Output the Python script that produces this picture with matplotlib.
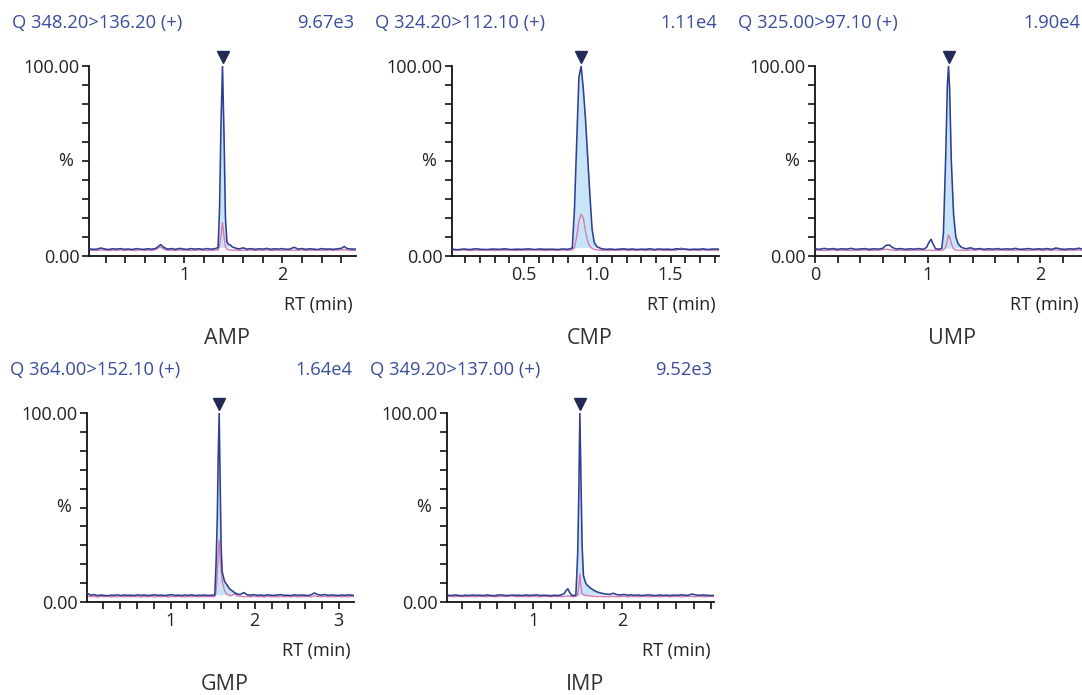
import numpy as np
import matplotlib
matplotlib.use("Agg")
import matplotlib.pyplot as plt
from matplotlib.ticker import MultipleLocator

plt.rcParams['font.family'] = ['Open Sans', 'DejaVu Sans']

# compound info
COMPOUNDS = ['AMP', 'CMP', 'UMP', 'GMP', 'IMP']
TRANSITIONS = ['Q 348.20>136.20 (+)', 'Q 324.20>112.10 (+)', 'Q 325.00>97.10 (+)',
               'Q 364.00>152.10 (+)', 'Q 349.20>137.00 (+)']
MAX_INTENSITY = ['9.67e3', '1.11e4', '1.90e4', '1.64e4', '9.52e3']
XLIMS = [(0.03, 2.75), (0.01, 1.83), (0.0, 2.37), (0.006, 3.18), (0.034, 3.03)]
XMAJOR = [[1, 2], [0.5, 1.0, 1.5], [0, 1, 2], [1, 2, 3], [1, 2]]
XLABELS = [['1', '2'], ['0.5', '1.0', '1.5'], ['0', '1', '2'], ['1', '2', '3'], ['1', '2']]
XMINOR = [0.2, 0.1, 0.2, 0.2, 0.2]
APEX_RT = [1.39, 0.89, 1.185, 1.577, 1.525]
PEAK_START = [1.345, 0.83, 1.125, 1.525, 1.48]
PEAK_END = [1.49, 1.00, 1.30, 1.79, 1.82]

# chromatogram traces (% of max), quant = main transition, qual = qualifier
AMP_RT = [0.03, 0.07, 0.11, 0.15, 0.19, 0.23, 0.27, 0.31, 0.35, 0.39,
          0.43, 0.47, 0.51, 0.55, 0.59, 0.63, 0.67, 0.71, 0.74, 0.76,
          0.79, 0.83, 0.87, 0.91, 0.95, 0.99, 1.03, 1.07, 1.11, 1.15,
          1.19, 1.23, 1.27, 1.31, 1.345, 1.36, 1.375, 1.39, 1.405, 1.42,
          1.435, 1.45, 1.47, 1.49, 1.52, 1.56, 1.60, 1.64, 1.68, 1.72,
          1.76, 1.80, 1.84, 1.88, 1.92, 1.96, 2.00, 2.04, 2.08, 2.12,
          2.16, 2.20, 2.24, 2.28, 2.32, 2.36, 2.40, 2.44, 2.48, 2.52,
          2.56, 2.60, 2.63, 2.66, 2.70, 2.75]
AMP_QUANT = [3.9, 3.5, 3.6, 4.2, 3.7, 3.4, 3.8, 3.6, 3.9, 3.5,
             3.7, 3.4, 3.9, 3.6, 3.5, 3.8, 3.6, 4.0, 5.2, 6.0,
             4.6, 3.6, 3.9, 3.5, 4.0, 3.7, 3.5, 3.9, 3.6, 3.8,
             3.5, 3.9, 3.6, 3.8, 4.4, 25.0, 70.0, 100.0, 65.0, 20.0,
             7.5, 6.2, 5.8, 4.8, 4.2, 3.7, 4.3, 3.6, 3.9, 3.5,
             3.8, 3.6, 4.0, 3.5, 3.8, 3.6, 3.9, 3.5, 3.7, 4.6,
             3.6, 3.9, 3.5, 3.8, 3.6, 3.4, 3.9, 3.6, 3.7, 3.5,
             3.8, 4.0, 5.0, 3.9, 3.7, 3.6]
AMP_QUAL = [3.0, 3.1, 2.9, 3.2, 3.0, 2.9, 3.1, 3.0, 3.2, 2.9,
            3.1, 3.0, 2.9, 3.2, 3.0, 3.1, 2.9, 3.3, 4.3, 4.8,
            3.6, 3.0, 3.1, 2.9, 3.2, 3.0, 3.1, 2.9, 3.0, 3.2,
            3.0, 2.9, 3.1, 3.0, 3.2, 5.0, 11.0, 17.5, 10.5, 5.0,
            3.6, 3.3, 3.1, 3.0, 3.2, 2.9, 3.1, 3.0, 3.2, 2.9,
            3.1, 3.0, 3.2, 2.9, 3.0, 3.1, 2.9, 3.2, 3.0, 3.1,
            3.0, 3.2, 2.9, 3.1, 3.0, 3.2, 2.9, 3.0, 3.1, 3.0,
            3.1, 3.2, 3.4, 3.1, 3.0, 2.9]

CMP_RT = [0.01, 0.05, 0.09, 0.13, 0.17, 0.21, 0.25, 0.29, 0.33, 0.37,
          0.41, 0.45, 0.49, 0.53, 0.57, 0.61, 0.65, 0.69, 0.73, 0.77,
          0.80, 0.83, 0.845, 0.86, 0.875, 0.89, 0.905, 0.92, 0.935, 0.95,
          0.965, 0.98, 1.00, 1.03, 1.06, 1.09, 1.12, 1.15, 1.18, 1.21,
          1.24, 1.27, 1.30, 1.33, 1.36, 1.39, 1.42, 1.45, 1.48, 1.51,
          1.54, 1.57, 1.60, 1.63, 1.66, 1.69, 1.72, 1.75, 1.78, 1.81,
          1.83]
CMP_QUANT = [3.6, 3.3, 3.7, 3.4, 3.8, 3.5, 3.4, 3.7, 3.5, 3.8,
             3.4, 3.6, 3.5, 3.8, 3.4, 3.7, 3.5, 3.6, 3.4, 3.7,
             3.5, 4.2, 25.0, 60.0, 94.0, 100.0, 88.0, 72.0, 52.0, 32.0,
             14.0, 7.0, 4.8, 3.8, 3.5, 3.7, 3.4, 3.6, 3.8, 3.5,
             3.7, 3.4, 3.6, 3.5, 3.8, 3.4, 3.7, 3.5, 3.6, 3.4,
             3.8, 3.5, 3.7, 3.4, 3.6, 3.5, 3.8, 3.4, 3.6, 3.7,
             3.5]
CMP_QUAL = [3.1, 3.0, 3.2, 2.9, 3.1, 3.0, 3.2, 2.9, 3.1, 3.0,
            3.2, 2.9, 3.1, 3.0, 3.2, 3.0, 2.9, 3.1, 3.0, 3.2,
            3.0, 3.2, 4.5, 10.0, 18.5, 22.0, 20.0, 13.0, 7.5, 5.0,
            4.0, 3.5, 3.2, 3.0, 3.1, 2.9, 3.1, 3.0, 3.2, 2.9,
            3.1, 3.0, 3.2, 2.9, 3.1, 3.0, 3.2, 3.0, 2.9, 3.1,
            3.0, 4.2, 3.3, 3.0, 3.1, 2.9, 3.1, 3.2, 3.0, 3.1,
            3.0]

UMP_RT = [0.00, 0.04, 0.08, 0.12, 0.16, 0.20, 0.24, 0.28, 0.32, 0.36,
          0.40, 0.44, 0.48, 0.52, 0.56, 0.60, 0.63, 0.66, 0.69, 0.72,
          0.76, 0.80, 0.84, 0.88, 0.92, 0.96, 0.99, 1.01, 1.03, 1.05,
          1.07, 1.10, 1.125, 1.14, 1.16, 1.175, 1.185, 1.195, 1.21, 1.23,
          1.25, 1.27, 1.30, 1.34, 1.38, 1.42, 1.46, 1.50, 1.54, 1.58,
          1.62, 1.66, 1.70, 1.74, 1.78, 1.82, 1.86, 1.90, 1.94, 1.98,
          2.02, 2.06, 2.10, 2.14, 2.18, 2.22, 2.26, 2.30, 2.34, 2.37]
UMP_QUANT = [3.8, 3.5, 4.0, 3.6, 3.9, 3.5, 3.8, 3.6, 4.0, 3.5,
             3.7, 3.9, 3.5, 3.8, 3.6, 4.0, 5.6, 5.8, 4.4, 3.7,
             3.9, 3.5, 3.8, 3.6, 3.9, 3.5, 4.5, 7.0, 8.8, 6.0,
             3.8, 3.6, 4.0, 12.0, 52.0, 90.0, 100.0, 88.0, 50.0, 22.0,
             10.0, 6.5, 4.5, 3.8, 4.3, 3.6, 3.9, 3.5, 3.8, 3.6,
             3.9, 3.5, 3.8, 3.6, 4.0, 3.5, 3.7, 3.9, 3.5, 3.8,
             3.6, 3.9, 3.5, 4.2, 3.7, 3.5, 3.8, 3.6, 4.1, 3.7]
UMP_QUAL = [3.0, 3.1, 2.9, 3.0, 3.2, 2.9, 3.1, 3.0, 2.9, 3.1,
            3.0, 3.2, 2.9, 3.0, 3.1, 3.3, 3.6, 3.4, 3.0, 2.9,
            3.1, 3.0, 2.9, 3.1, 3.0, 3.2, 2.9, 3.1, 3.0, 2.9,
            3.1, 3.0, 3.0, 3.2, 4.5, 8.5, 11.0, 10.0, 6.5, 3.8,
            3.2, 3.0, 3.1, 2.9, 3.2, 3.0, 3.4, 3.0, 2.9, 3.1,
            3.0, 3.2, 2.9, 3.1, 3.0, 3.2, 2.9, 3.0, 3.1, 3.2,
            2.9, 3.1, 3.0, 3.2, 2.9, 3.0, 3.1, 3.0, 3.2, 3.0]

GMP_RT = [0.01, 0.05, 0.09, 0.13, 0.17, 0.21, 0.25, 0.29, 0.33, 0.37,
          0.41, 0.45, 0.49, 0.53, 0.57, 0.61, 0.65, 0.69, 0.73, 0.77,
          0.81, 0.85, 0.89, 0.93, 0.97, 1.01, 1.05, 1.09, 1.13, 1.17,
          1.21, 1.25, 1.29, 1.33, 1.37, 1.41, 1.45, 1.49, 1.525, 1.54,
          1.555, 1.565, 1.577, 1.59, 1.60, 1.613, 1.64, 1.67, 1.70, 1.73,
          1.76, 1.79, 1.83, 1.87, 1.91, 1.95, 1.99, 2.03, 2.07, 2.11,
          2.15, 2.19, 2.23, 2.27, 2.31, 2.35, 2.39, 2.43, 2.47, 2.51,
          2.55, 2.59, 2.63, 2.67, 2.71, 2.75, 2.79, 2.83, 2.87, 2.91,
          2.95, 2.99, 3.03, 3.07, 3.11, 3.15, 3.18]
GMP_QUANT = [4.6, 3.6, 3.9, 3.4, 3.7, 3.5, 3.3, 3.6, 3.5, 3.8,
             3.4, 3.7, 3.5, 3.6, 3.4, 3.8, 3.5, 3.7, 3.4, 3.6,
             3.8, 3.5, 3.7, 3.4, 3.6, 3.9, 3.5, 3.6, 3.4, 3.7,
             3.5, 3.8, 3.4, 3.6, 3.5, 3.7, 3.4, 3.6, 3.7, 20.0,
             45.0, 75.0, 100.0, 60.0, 30.0, 16.0, 11.0, 9.0, 7.0, 6.0,
             5.0, 4.2, 4.0, 5.0, 3.8, 3.6, 3.9, 3.5, 3.7, 3.4,
             3.8, 3.6, 3.5, 3.7, 3.9, 3.5, 3.6, 3.4, 3.8, 3.5,
             3.7, 3.6, 3.4, 3.8, 4.8, 3.9, 3.6, 4.0, 3.5, 3.7,
             3.6, 3.4, 3.7, 3.5, 3.8, 3.6, 3.5]
GMP_QUAL = [3.2, 2.8, 3.0, 2.7, 2.9, 2.8, 3.0, 2.7, 2.9, 2.8,
            3.0, 2.7, 2.9, 2.8, 3.0, 2.8, 2.7, 2.9, 2.8, 3.0,
            2.7, 2.9, 2.8, 3.0, 2.7, 2.9, 2.8, 3.0, 2.8, 2.7,
            2.9, 2.8, 3.0, 2.7, 2.9, 2.8, 3.0, 2.8, 2.9, 5.0,
            15.0, 25.0, 32.6, 22.0, 17.0, 11.0, 6.0, 4.0, 3.4, 3.5,
            4.4, 3.2, 3.0, 2.8, 2.9, 2.7, 3.0, 2.8, 2.9, 2.7,
            3.0, 2.8, 2.9, 2.7, 3.0, 2.8, 2.9, 2.8, 3.0, 2.7,
            2.9, 2.8, 3.0, 2.7, 3.3, 2.9, 2.8, 3.0, 2.8, 2.9,
            2.7, 3.0, 2.8, 2.9, 2.8, 3.0, 2.8]

IMP_RT = [0.04, 0.08, 0.12, 0.16, 0.20, 0.24, 0.28, 0.32, 0.36, 0.40,
          0.44, 0.48, 0.52, 0.56, 0.60, 0.64, 0.68, 0.72, 0.76, 0.80,
          0.84, 0.88, 0.92, 0.96, 1.00, 1.04, 1.08, 1.12, 1.16, 1.20,
          1.24, 1.28, 1.32, 1.35, 1.37, 1.39, 1.41, 1.43, 1.46, 1.48,
          1.50, 1.512, 1.525, 1.537, 1.55, 1.565, 1.59, 1.61, 1.64, 1.68,
          1.72, 1.77, 1.82, 1.86, 1.90, 1.94, 1.98, 2.02, 2.06, 2.10,
          2.14, 2.18, 2.22, 2.26, 2.30, 2.34, 2.38, 2.42, 2.46, 2.50,
          2.54, 2.58, 2.62, 2.66, 2.70, 2.74, 2.78, 2.82, 2.86, 2.90,
          2.94, 2.98, 3.03]
IMP_QUANT = [3.6, 3.4, 3.7, 3.5, 3.3, 3.6, 3.4, 3.7, 3.5, 3.6,
             3.4, 3.7, 3.5, 3.3, 3.6, 3.8, 3.5, 3.4, 3.7, 3.5,
             3.6, 3.4, 3.7, 3.5, 3.6, 3.8, 3.4, 3.6, 3.5, 3.3,
             3.6, 3.4, 3.8, 4.5, 6.0, 7.0, 5.0, 3.6, 3.4, 3.7,
             25.0, 55.0, 100.0, 65.0, 30.0, 14.0, 10.0, 8.8, 7.5, 6.2,
             5.3, 4.6, 4.2, 4.0, 4.6, 3.9, 3.7, 4.0, 3.6, 3.8,
             3.5, 3.7, 3.4, 3.6, 3.8, 3.5, 3.4, 3.7, 3.5, 3.6,
             3.4, 3.7, 3.5, 3.8, 3.6, 3.5, 4.2, 3.8, 3.5, 3.7,
             3.6, 3.4, 3.5]
IMP_QUAL = [2.9, 3.0, 2.8, 3.0, 2.9, 2.8, 3.0, 2.9, 2.8, 3.0,
            2.9, 2.8, 3.0, 2.9, 2.8, 3.0, 2.9, 3.0, 3.3, 2.9,
            2.8, 3.0, 2.9, 2.8, 3.0, 2.9, 2.8, 3.0, 2.9, 2.8,
            3.0, 2.9, 2.8, 3.0, 3.1, 3.2, 3.0, 2.9, 2.8, 3.0,
            3.5, 8.0, 14.7, 8.0, 4.5, 3.8, 3.5, 3.4, 3.2, 3.0,
            2.9, 3.0, 2.8, 2.9, 3.0, 2.8, 2.9, 3.0, 2.8, 2.9,
            3.0, 2.8, 2.9, 3.0, 2.8, 2.9, 3.0, 2.8, 2.9, 3.0,
            2.8, 2.9, 3.0, 2.8, 2.9, 3.1, 2.9, 2.8, 3.0, 2.9,
            2.8, 3.0, 2.9]

TRACES = [(AMP_RT, AMP_QUANT, AMP_QUAL), (CMP_RT, CMP_QUANT, CMP_QUAL),
          (UMP_RT, UMP_QUANT, UMP_QUAL), (GMP_RT, GMP_QUANT, GMP_QUAL),
          (IMP_RT, IMP_QUANT, IMP_QUAL)]

# layout in pixels: left, right, top, bottom of each plot area
W, H = 1082, 695
BOXES = [(89, 356, 66, 256), (452, 719, 66, 256), (815, 1082, 66, 256),
         (87, 354, 413, 602), (447, 714, 413, 602)]

LINE = '#2f3f92'
FILL = '#c8e5f7'
PINK = '#d77ab4'
MARK = '#232a56'
BLUE_TXT = '#3a4d9c'
DARK = '#222222'

fig = plt.figure(figsize=(W / 100, H / 100), dpi=100)

for i in range(5):
    l, r, t, b = BOXES[i]
    ax = fig.add_axes([l / W, 1 - b / H, (r - l) / W, (b - t) / H])
    rt, quant, qual = [np.array(a) for a in TRACES[i]]

    # peak area shading
    m = (rt >= PEAK_START[i]) & (rt <= PEAK_END[i])
    base = np.interp(rt[m], [PEAK_START[i], PEAK_END[i]],
                     [np.interp(PEAK_START[i], rt, quant), np.interp(PEAK_END[i], rt, quant)])
    ax.fill_between(rt[m], base, quant[m], color=FILL, lw=0, zorder=1)

    ax.plot(rt, qual, color=PINK, lw=1.0, zorder=2)
    ax.plot(rt, quant, color=LINE, lw=1.15, zorder=3)
    ax.plot([APEX_RT[i]], [104.5], marker='v', color=MARK, ms=9, clip_on=False, zorder=4)

    ax.set_xlim(*XLIMS[i])
    ax.set_ylim(0, 100)
    for s in ['top', 'right']:
        ax.spines[s].set_visible(False)
    for s in ['left', 'bottom']:
        ax.spines[s].set_linewidth(1.3)
        ax.spines[s].set_color('#111111')

    ax.set_xticks(XMAJOR[i])
    ax.set_xticklabels(XLABELS[i])
    ax.xaxis.set_minor_locator(MultipleLocator(XMINOR[i]))
    ax.set_yticks([0, 50, 100])
    ax.set_yticklabels(['0.00', '', '100.00'])
    ax.yaxis.set_minor_locator(MultipleLocator(10))
    ax.tick_params(which='both', direction='out', length=5, width=1.2, color='#111111')
    ax.tick_params(axis='x', labelsize=13, pad=2.5, labelcolor=DARK)
    ax.tick_params(axis='y', labelsize=13, pad=2, labelcolor=DARK)
    ax.annotate('%', xy=(0, 50), xycoords=('axes fraction', 'data'), xytext=(-23 * 0.72, 0),
                textcoords='offset points', ha='center', va='center', fontsize=13, color=DARK)

    # header / labels
    fig.text((l - 77) / W, 1 - (t - 43) / H, TRANSITIONS[i], ha='left', va='center',
             fontsize=13.2, color=BLUE_TXT)
    fig.text((r - 2) / W, 1 - (t - 43) / H, MAX_INTENSITY[i], ha='right', va='center',
             fontsize=13.2, color=BLUE_TXT)
    fig.text((r - 3) / W, 1 - (b + 49) / H, 'RT (min)', ha='right', va='center',
             fontsize=13, color=DARK)
    fig.text(((l + r) / 2 + 4) / W, 1 - (b + 82) / H, COMPOUNDS[i], ha='center', va='center',
             fontsize=15.5, color='#333333')

fig.savefig('out.png', dpi=100)
